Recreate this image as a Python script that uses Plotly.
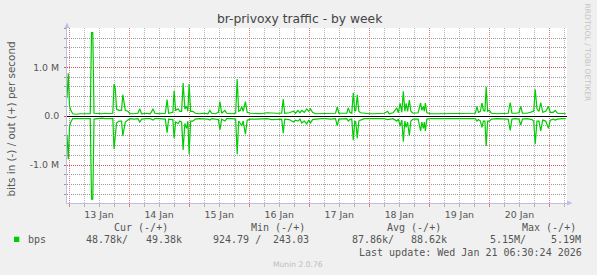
import pandas as pd
import plotly.graph_objects as go

# ---------------- data (hours after 2026-01-13 00:00, values in Mbit/s) ----------------
hours = [
    -0.8, -0.3, 0.2, 0.7, 1.5, 3.0, 4.5, 6.0, 7.5, 8.5, 9.0, 9.5, 10.0, 11.5, 13.0, 14.5,
    16.0, 17.5, 18.0, 18.5, 19.0, 20.0, 21.0, 21.5, 22.0, 22.5, 23.5, 24.5, 26.0, 27.5,
    28.3, 29.0, 31.0, 32.5, 33.6, 34.3, 36.0, 38.5, 39.2, 39.8, 41.5, 42.0, 42.6, 43.6,
    44.3, 45.0, 45.6, 46.3, 47.0, 47.5, 48.0, 48.6, 49.5, 50.5, 52.0, 54.0, 55.5, 56.3,
    57.0, 58.5, 59.7, 60.3, 61.0, 62.3, 63.0, 65.0, 66.6, 67.2, 67.8, 68.5, 69.0, 69.6,
    70.5, 71.2, 72.5, 75.0, 77.0, 79.0, 81.0, 83.0, 85.0, 85.6, 86.2, 88.0, 89.7, 90.5,
    91.5, 92.3, 93.0, 94.0, 95.0, 95.8, 96.5, 97.3, 98.5, 100.5, 102.5, 104.5, 106.5,
    107.2, 107.8, 109.5, 111.0, 111.6, 112.2, 113.0, 113.6, 114.2, 114.6, 115.2, 115.8,
    116.5, 118.0, 120.0, 122.0, 124.0, 126.0, 127.3, 128.0, 129.5, 131.0, 131.6, 132.3,
    133.0, 133.6, 134.2, 134.7, 135.3, 136.0, 136.6, 137.5, 139.5, 140.5, 141.0, 141.6,
    142.0, 142.4, 143.0, 144.5, 147.0, 149.0, 151.0, 153.0, 155.0, 157.0, 159.0, 161.0,
    162.4, 163.0, 163.6, 164.4, 165.0, 165.6, 166.2, 166.7, 167.3, 168.0, 168.8, 171.0,
    173.0, 175.5, 176.3, 177.0, 178.5, 179.8, 180.5, 181.2, 183.0, 185.0, 185.7, 186.3,
    187.0, 187.8, 188.5, 189.3, 190.5, 191.6, 192.3, 193.5, 194.3, 195.2, 197.0, 198.5,
]

out_mbps = [
    0.37, 0.88, 0.21, 0.12, 0.05, 0.04, 0.05, 0.05, 0.04, 0.05, 1.71, 1.71, 0.06, 0.05, 0.05, 0.06,
    0.05, 0.06, 0.66, 0.56, 0.14, 0.12, 0.12, 0.44, 0.30, 0.12, 0.10, 0.05, 0.05, 0.06,
    0.15, 0.05, 0.06, 0.05, 0.15, 0.06, 0.05, 0.06, 0.34, 0.06, 0.08, 0.52, 0.12, 0.15,
    0.10, 0.10, 0.68, 0.15, 0.20, 0.10, 0.66, 0.10, 0.10, 0.06, 0.05, 0.06, 0.05, 0.12,
    0.06, 0.05, 0.08, 0.30, 0.06, 0.12, 0.06, 0.05, 0.06, 0.76, 0.10, 0.12, 0.20, 0.10,
    0.30, 0.08, 0.06, 0.06, 0.05, 0.07, 0.06, 0.06, 0.06, 0.35, 0.06, 0.07, 0.10, 0.06,
    0.12, 0.07, 0.12, 0.08, 0.15, 0.10, 0.15, 0.08, 0.05, 0.05, 0.05, 0.05, 0.06,
    0.19, 0.06, 0.06, 0.06, 0.17, 0.08, 0.06, 0.48, 0.10, 0.12, 0.44, 0.10,
    0.07, 0.06, 0.05, 0.05, 0.05, 0.06, 0.10, 0.05, 0.07, 0.17, 0.07, 0.26,
    0.08, 0.51, 0.10, 0.26, 0.10, 0.33, 0.10, 0.06, 0.07, 0.27, 0.12, 0.20,
    0.10, 0.27, 0.07, 0.05, 0.05, 0.05, 0.05, 0.05, 0.05, 0.05, 0.06, 0.05,
    0.06, 0.20, 0.08, 0.10, 0.27, 0.12, 0.10, 0.60, 0.10, 0.12, 0.06, 0.05,
    0.05, 0.06, 0.28, 0.06, 0.06, 0.07, 0.20, 0.06, 0.06, 0.08, 0.10, 0.55,
    0.15, 0.10, 0.28, 0.08, 0.10, 0.20, 0.08, 0.08, 0.12, 0.06, 0.05, 0.05,
]

in_mbps = [
    0.38, 0.88, 0.22, 0.12, 0.05, 0.05, 0.04, 0.05, 0.05, 0.05, 1.70, 1.70, 0.06, 0.05, 0.04, 0.05,
    0.05, 0.05, 0.67, 0.40, 0.14, 0.10, 0.10, 0.40, 0.25, 0.12, 0.08, 0.05, 0.06, 0.05,
    0.12, 0.06, 0.05, 0.05, 0.08, 0.05, 0.05, 0.06, 0.34, 0.06, 0.07, 0.45, 0.12, 0.15,
    0.10, 0.12, 0.69, 0.15, 0.25, 0.10, 0.78, 0.10, 0.10, 0.06, 0.05, 0.05, 0.06, 0.08,
    0.05, 0.06, 0.07, 0.28, 0.06, 0.10, 0.05, 0.05, 0.06, 0.78, 0.10, 0.15, 0.20, 0.10,
    0.37, 0.08, 0.06, 0.06, 0.06, 0.05, 0.07, 0.06, 0.06, 0.35, 0.06, 0.07, 0.12, 0.08,
    0.10, 0.06, 0.14, 0.10, 0.16, 0.08, 0.14, 0.07, 0.06, 0.05, 0.05, 0.06, 0.05,
    0.20, 0.06, 0.06, 0.05, 0.10, 0.07, 0.06, 0.49, 0.10, 0.12, 0.45, 0.10,
    0.08, 0.05, 0.05, 0.05, 0.05, 0.05, 0.07, 0.06, 0.05, 0.10, 0.06, 0.20,
    0.08, 0.52, 0.10, 0.23, 0.12, 0.40, 0.10, 0.06, 0.06, 0.30, 0.12, 0.25,
    0.12, 0.30, 0.06, 0.05, 0.05, 0.05, 0.05, 0.05, 0.05, 0.05, 0.05, 0.06,
    0.05, 0.10, 0.07, 0.10, 0.23, 0.10, 0.10, 0.61, 0.10, 0.10, 0.06, 0.05,
    0.06, 0.06, 0.29, 0.06, 0.05, 0.06, 0.18, 0.06, 0.05, 0.07, 0.10, 0.57,
    0.10, 0.10, 0.30, 0.08, 0.10, 0.25, 0.08, 0.06, 0.08, 0.06, 0.05, 0.05,
]

y_tick_vals = [-1.0e6, 0.0, 1.0e6]
y_tick_text = ["-1.0 M", "0.0", "1.0 M"]
y_minor_vals = [-1.6e6, -1.4e6, -1.2e6, -0.8e6, -0.6e6, -0.4e6, -0.2e6,
                0.2e6, 0.4e6, 0.6e6, 0.8e6, 1.2e6, 1.4e6, 1.6e6, 1.8e6]

legend_headers = ["Cur (-/+)", "Min (-/+)", "Avg (-/+)", "Max (-/+)"]
legend_values = ["48.78k/", "49.38k", "924.79 /", "243.03", "87.86k/", "88.62k", "5.15M/", "5.19M"]
series_name = "bps"
last_update = "Last update: Wed Jan 21 06:30:24 2026"

# ---------------- figure ----------------
base = pd.Timestamp("2026-01-13 00:00")
times = [base + pd.Timedelta(hours=h) for h in hours]
GREEN = "#00CC00"

fig = go.Figure()
fig.add_trace(go.Scatter(x=times, y=[v * 1e6 for v in out_mbps], mode="lines",
                         line=dict(color=GREEN, width=1.2), hoverinfo="skip"))
fig.add_trace(go.Scatter(x=times, y=[-v * 1e6 for v in in_mbps], mode="lines",
                         line=dict(color=GREEN, width=1.2), hoverinfo="skip"))

W, H = 597, 275
L, R, T, B = 67, 30, 28, 72
PW, PH = W - L - R, H - T - B


def px(x):
    return (x - L) / PW


def py(y):
    return (H - B - y) / PH


XMAJ = "#de7f7f"
XMIN = "#b5b5b5"
YMAJ = "#cf5a5a"
YMIN = "#9a9a9a"
AXC = "#bcc0e4"
TXT = "#555555"
SANS = "DejaVu Sans"
MONO = "DejaVu Sans Mono"

fig.update_layout(
    width=W, height=H,
    margin=dict(l=L, r=R, t=T, b=B, pad=0),
    paper_bgcolor="#F0F0F0", plot_bgcolor="#FFFFFF",
    showlegend=False,
    xaxis=dict(
        type="date",
        range=[base - pd.Timedelta(hours=0.8), base + pd.Timedelta(hours=199)],
        tickmode="linear", tick0=base, dtick=86400000,
        tickformat="%d %b", ticklabelmode="period",
        showgrid=True, gridcolor=XMAJ, griddash="1px,1px", gridwidth=1,
        ticks="outside", ticklen=3, tickcolor=XMAJ, tickwidth=1,
        minor=dict(dtick=6 * 3600000, showgrid=True, gridcolor=XMIN, griddash="1px,1px",
                   ticks="outside", ticklen=3, tickcolor=XMIN),
        showline=True, linecolor=AXC, linewidth=1,
        tickfont=dict(family=SANS, size=9.4, color=TXT),
        zeroline=False, fixedrange=True,
    ),
    yaxis=dict(
        range=[-1.777e6, 1.805e6],
        tickmode="array", tickvals=y_tick_vals, ticktext=y_tick_text,
        showgrid=True, gridcolor=YMAJ, griddash="1px,1px", gridwidth=1,
        ticks="outside", ticklen=2, tickcolor=YMAJ,
        minor=dict(tickmode="array", tickvals=y_minor_vals, showgrid=True, gridcolor=YMIN,
                   griddash="1px,1px", ticks="outside", ticklen=2, tickcolor=YMIN),
        zeroline=True, zerolinecolor="#000000", zerolinewidth=1,
        showline=True, linecolor=AXC, linewidth=1,
        tickfont=dict(family=SANS, size=9.4, color=TXT),
        ticklabelstandoff=3, fixedrange=True,
    ),
)


def ann(text, x, y, size, color, family, xanchor="center", angle=0):
    return dict(text=text, x=px(x), y=py(y), xref="paper", yref="paper",
                showarrow=False, xanchor=xanchor, yanchor="middle", borderpad=0,
                textangle=angle, font=dict(family=family, size=size, color=color))


anns = [
    ann("br-privoxy traffic - by week", 300, 19, 12.3, "#444444", SANS),
    ann("bits in (-) / out (+) per second", 10, 119.5, 10.4, TXT, SANS, angle=-90),
    ann("RRDTOOL / TOBI OETIKER", 587.5, 53, 7.6, "#c4c4c4", SANS, angle=90),
    ann(legend_headers[0], 140.5, 227.7, 10, TXT, MONO),
    ann(legend_headers[1], 277.7, 227.7, 10, TXT, MONO),
    ann(legend_headers[2], 413.7, 227.7, 10, TXT, MONO),
    ann(legend_headers[3], 548.8, 227.7, 10, TXT, MONO),
    ann(series_name, 26.7, 239.3, 10, TXT, MONO, xanchor="left"),
    ann(legend_values[0], 85, 239.3, 10, TXT, MONO, xanchor="left"),
    ann(legend_values[1], 182.7, 239.3, 10, TXT, MONO, xanchor="right"),
    ann(legend_values[2], 212.3, 239.3, 10, TXT, MONO, xanchor="left"),
    ann(legend_values[3], 310, 239.3, 10, TXT, MONO, xanchor="right"),
    ann(legend_values[4], 350.7, 239.3, 10, TXT, MONO, xanchor="left"),
    ann(legend_values[5], 448.3, 239.3, 10, TXT, MONO, xanchor="right"),
    ann(legend_values[6], 489.3, 239.3, 10, TXT, MONO, xanchor="left"),
    ann(legend_values[7], 581.7, 239.3, 10, TXT, MONO, xanchor="right"),
    ann(last_update, 582.7, 252, 10, TXT, MONO, xanchor="right"),
    ann("Munin 2.0.76", 298, 264.3, 7.6, "#bdbdbd", SANS),
]
fig.update_layout(annotations=anns)

# legend colour square and axis arrowheads (decoration)
shapes = [
    dict(type="rect", xref="paper", yref="paper", x0=px(14), x1=px(19.3), y0=py(242), y1=py(236.7),
         fillcolor=GREEN, line=dict(width=0)),
    dict(type="path", xref="paper", yref="paper",
         path=f"M {px(64.5)},{py(28)} L {px(69.5)},{py(28)} L {px(67)},{py(22.5)} Z",
         fillcolor=AXC, line=dict(width=0)),
    dict(type="path", xref="paper", yref="paper",
         path=f"M {px(567)},{py(200.5)} L {px(567)},{py(205.5)} L {px(572.5)},{py(203)} Z",
         fillcolor=AXC, line=dict(width=0)),
]
fig.update_layout(shapes=shapes)

fig.write_html("out.html", config={"displayModeBar": False})
